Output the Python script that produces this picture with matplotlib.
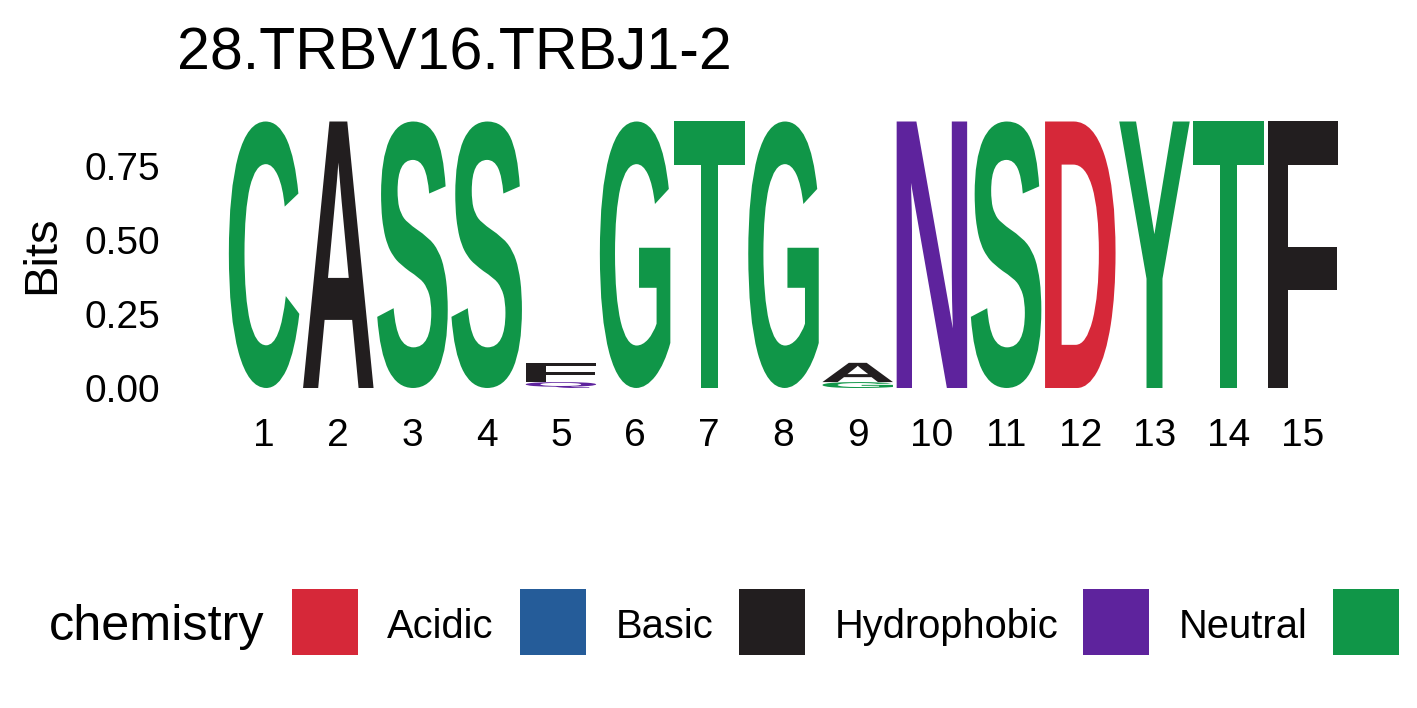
import matplotlib
matplotlib.use("Agg")
import matplotlib.pyplot as plt
from matplotlib.textpath import TextPath
from matplotlib.patches import PathPatch, Rectangle
from matplotlib.font_manager import FontProperties
from matplotlib.transforms import Affine2D

plt.rcParams['font.family'] = ['Liberation Sans', 'DejaVu Sans']

title = "28.TRBV16.TRBJ1-2"
positions = list(range(1, 16))
# letters at each position, bottom to top, with their heights in bits
stack_letters = [["C"], ["A"], ["S"], ["S"], ["Q", "F"], ["G"], ["T"], ["G"],
                 ["G", "A"], ["N"], ["S"], ["D"], ["Y"], ["T"], ["F"]]
stack_bits = [[0.9], [0.9], [0.9], [0.9], [0.02, 0.063], [0.9], [0.9], [0.9],
              [0.02, 0.065], [0.9], [0.9], [0.9], [0.9], [0.9], [0.9]]
y_ticks = [0.0, 0.25, 0.5, 0.75]
y_ticklabels = ["0.00", "0.25", "0.50", "0.75"]

chem_names = ["Acidic", "Basic", "Hydrophobic", "Neutral", "Polar"]
chem_colors = ["#D62839", "#255C99", "#221E1F", "#5E239D", "#109648"]
chem_members = ["DE", "HKR", "AFILMPVW", "NQ", "GSTYC"]

def letter_color(ch):
    for members, col in zip(chem_members, chem_colors):
        if ch in members:
            return col
    return "#888888"

W, H = 1417, 708
fig = plt.figure(figsize=(W / 100, H / 100), dpi=100)
ax = fig.add_axes([227 / W, 1 - 388 / H, (1340 - 227) / W, (388 - 121.5) / H])

fp = FontProperties(family="Liberation Sans", weight="bold")
col_width = 0.95

for pos, letters, bits in zip(positions, stack_letters, stack_bits):
    bottom = 0.0
    for ch, h in zip(letters, bits):
        tp = TextPath((0, 0), ch, size=1, prop=fp)
        ext = tp.get_extents()
        tr = (Affine2D().translate(-ext.x0, -ext.y0)
              .scale(col_width / ext.width, h / ext.height)
              .translate(pos - col_width / 2, bottom))
        ax.add_patch(PathPatch(tr.transform_path(tp), facecolor=letter_color(ch),
                               edgecolor="none", lw=0))
        bottom += h

ax.set_xlim(0.5, 15.5)
ax.set_ylim(0, 0.9)
ax.set_xticks(positions)
ax.set_xticklabels([str(p) for p in positions])
ax.set_yticks(y_ticks)
ax.set_yticklabels(y_ticklabels)
ax.tick_params(axis="x", length=0, pad=21.5, labelsize=28)
ax.tick_params(axis="y", length=0, pad=48, labelsize=28)
for s in ax.spines.values():
    s.set_visible(False)
ax.set_ylabel("Bits", fontsize=34, labelpad=14.5)

fig.text(177 / W, 1 - 69 / H, title, fontsize=42.5, ha="left", va="baseline")

# legend (runs off the right edge like the original, so Polar's label is not shown)
fig.text(49 / W, 1 - 640 / H, "chemistry", fontsize=36.3, ha="left", va="baseline")
swatch_x = [292, 520, 739, 1083, 1333]
label_x = [387, 616, 835, 1179, 1429]
for name, col, sx, lx in zip(chem_names, chem_colors, swatch_x, label_x):
    fig.patches.append(Rectangle((sx / W, 1 - 655 / H), 66 / W, 66 / H,
                                 transform=fig.transFigure, facecolor=col,
                                 edgecolor="none"))
    if lx < W:
        fig.text(lx / W, 1 - 637.5 / H, name, fontsize=28.7, ha="left", va="baseline")

fig.savefig("out.png", dpi=100)
